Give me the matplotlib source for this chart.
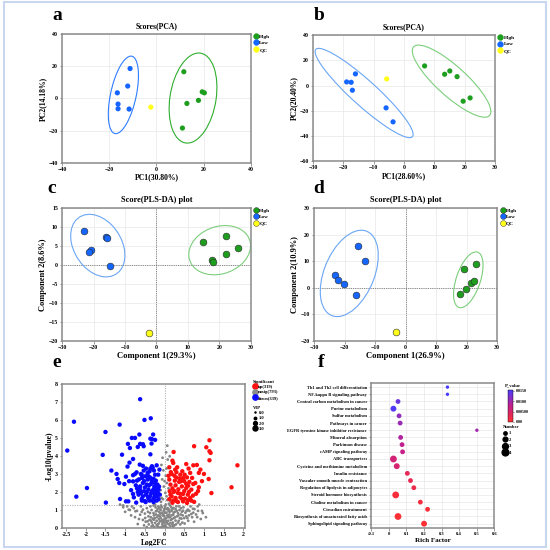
import numpy as np
import matplotlib
matplotlib.use("Agg")
import matplotlib.pyplot as plt
from matplotlib.patches import Ellipse, Rectangle
from matplotlib.colors import LinearSegmentedColormap
from matplotlib.lines import Line2D

plt.rcParams['font.family'] = ['Liberation Serif', 'DejaVu Serif']
plt.rcParams['font.weight'] = 'bold'
plt.rcParams['axes.labelweight'] = 'bold'
plt.rcParams['axes.titleweight'] = 'bold'

# ---------------- data ----------------
groups = ['High', 'Low', 'QC']

# a: PCA scores
a_high_x = [11.6, 19.4, 20.3, 17.8, 12.9, 11.0]
a_high_y = [16.6, 4.1, 3.5, -1.2, -3.1, -18.4]
a_low_x = [-11.2, -12.2, -16.6, -16.3, -16.3, -11.6]
a_low_y = [18.6, 7.7, 3.5, -3.5, -6.4, -6.6]
a_qc_x, a_qc_y = [-2.4], [-5.4]

# b: PCA scores
b_high_x = [6.8, 13.4, 15.1, 17.5, 19.5, 21.8]
b_high_y = [15.6, 9.0, 11.6, 7.1, -12.4, -9.8]
b_low_x = [-16.0, -18.9, -17.4, -17.0, -5.9, -3.6]
b_low_y = [9.3, 2.9, 2.6, -3.7, -17.7, -28.8]
b_qc_x, b_qc_y = [-5.7], [5.3]

# c: PLS-DA scores
c_high_x = [14.7, 22.0, 25.9, 22.2, 17.7, 18.1]
c_high_y = [6.0, 7.6, 4.5, 3.0, 1.3, 0.9]
c_low_x = [-23.0, -16.0, -15.8, -20.9, -21.5, -14.8]
c_low_y = [9.0, 7.3, 7.1, 3.9, 3.4, -0.2]
c_qc_x, c_qc_y = [-2.3], [-17.8]

# d: PLS-DA scores
d_high_x = [19.0, 22.9, 21.4, 22.3, 19.7, 17.9]
d_high_y = [7.2, 8.9, 1.9, 2.4, -0.3, -2.2]
d_low_x = [-15.7, -13.4, -23.1, -22.0, -20.3, -16.3]
d_low_y = [15.8, 10.1, 4.8, 3.0, 1.4, -2.8]
d_qc_x, d_qc_y = [-3.1], [-16.7]

# e: volcano (log2FC, -log10 p)
down_pts = [(-0.62, 7.15), (-2.3, 5.9), (-1.14, 5.74), (-0.51, 6.0), (-0.35, 6.09), (-1.5, 5.33),
            (-0.64, 5.19), (-0.29, 5.19), (-0.83, 5.0), (-0.75, 5.0), (-0.36, 4.96), (-0.24, 4.89),
            (-0.32, 4.93), (-0.93, 4.67), (-0.62, 4.67), (-0.55, 4.65), (-0.33, 4.69), (-0.88, 4.44),
            (-0.68, 4.5), (-0.53, 4.54), (-2.47, 4.3), (-1.57, 4.06), (-1.08, 4.07), (-0.36, 4.09),
            (-0.8, 3.83), (-0.89, 3.63), (-0.94, 3.41), (-0.63, 3.52), (-1.35, 3.19), (-1.22, 3.0),
            (-0.32, 3.43), (-0.2, 3.48), (-0.36, 3.3), (-0.27, 3.19), (-0.71, 3.09), (-0.6, 3.0),
            (-0.8, 2.93), (-0.98, 2.85), (-1.19, 2.72), (-1.15, 2.5), (-1.02, 2.44), (-0.8, 2.59),
            (-0.73, 2.37), (-1.97, 2.22), (-2.24, 1.74), (-1.49, 1.41), (-1.13, 1.61), (-0.98, 1.48),
            (-0.92, 1.48), (-0.8, 1.89), (-0.72, 1.41), (-0.575, 2.78), (-0.49, 2.87), (-0.43, 2.69),
            (-0.37, 2.81), (-0.28, 2.74), (-0.22, 2.63), (-0.16, 2.96), (-0.55, 2.5), (-0.45, 2.41),
            (-0.35, 2.44), (-0.26, 2.31), (-0.18, 2.41), (-0.62, 2.13), (-0.52, 2.04), (-0.41, 2.13),
            (-0.32, 2.04), (-0.22, 2.0), (-0.15, 2.13), (-0.66, 1.85), (-0.55, 1.76), (-0.47, 1.85),
            (-0.37, 1.76), (-0.27, 1.67), (-0.18, 1.76), (-0.575, 1.52), (-0.48, 1.44), (-0.38, 1.52),
            (-0.28, 1.44), (-0.2, 1.52), (-0.43, 3.06), (-0.53, 3.19), (-0.24, 2.96), (-0.13, 3.24),
            (-0.7, 2.63), (-0.62, 2.31), (-0.12, 1.85), (-0.68, 2.0), (-0.42, 2.9), (-0.3, 2.55),
            (-0.5, 2.25), (-0.25, 1.9), (-0.4, 1.6), (-0.15, 1.6), (-0.58, 1.62), (-0.3, 3.35),
            (-0.65, 2.7), (-0.58, 2.95), (-0.47, 3.3), (-0.38, 3.15), (-0.33, 2.65), (-0.24, 2.5),
            (-0.2, 2.2), (-0.45, 2.0), (-0.35, 1.9), (-0.6, 1.95), (-0.5, 1.5), (-0.42, 1.7),
            (-0.3, 1.55), (-0.25, 1.8), (-0.14, 2.3), (-0.52, 2.6), (-0.4, 2.35), (-0.28, 2.15),
            (-0.17, 1.95), (-0.7, 2.2), (-0.78, 1.7), (-0.85, 2.1), (-0.9, 2.6), (-0.75, 3.0),
            (-0.55, 3.45)]
up_pts = [(1.14, 4.87), (0.75, 4.54), (1.06, 4.48), (1.14, 4.26), (1.17, 4.17), (0.23, 4.22),
          (1.14, 3.76), (1.85, 3.48), (0.2, 3.74), (0.22, 3.61), (0.73, 3.48), (0.12, 3.37),
          (0.32, 3.37), (0.27, 3.24), (0.61, 3.3), (0.91, 3.24), (0.87, 3.06), (0.65, 3.06),
          (0.51, 2.96), (0.18, 3.0), (0.4, 2.96), (0.47, 2.78), (0.57, 2.81), (0.7, 2.78),
          (1.12, 2.72), (0.12, 2.69), (0.26, 2.63), (0.37, 2.56), (0.63, 2.56), (0.73, 2.44),
          (0.87, 2.26), (1.7, 2.26), (0.15, 2.41), (0.28, 2.37), (0.44, 2.31), (0.55, 2.22),
          (0.68, 2.13), (1.19, 1.94), (0.13, 2.04), (0.23, 2.0), (0.34, 1.94), (0.47, 1.89),
          (0.59, 1.85), (0.72, 1.8), (0.18, 1.76), (0.28, 1.67), (0.4, 1.7), (0.52, 1.63),
          (0.65, 1.67), (0.22, 1.52), (0.34, 1.44), (0.47, 1.48), (0.57, 1.39), (0.68, 1.52),
          (0.3, 2.8), (0.42, 2.6), (0.2, 2.2), (0.35, 2.15), (0.5, 2.05), (0.15, 1.85),
          (0.62, 2.0), (0.8, 1.9), (0.45, 3.15), (0.55, 2.45), (0.25, 2.9), (0.1, 2.9),
          (0.16, 3.1), (0.3, 3.1), (0.38, 2.75), (0.5, 2.6), (0.6, 2.35), (0.78, 2.5),
          (0.85, 2.05), (0.25, 2.05), (0.4, 1.9), (0.3, 1.5), (0.45, 1.6), (0.6, 1.55),
          (0.75, 1.45), (0.12, 1.6), (0.2, 1.4), (0.95, 2.6), (1.0, 3.0), (0.82, 3.5),
          (0.55, 3.55)]
nosig_pts = [(-1.13, 1.3), (-1.05, 1.15), (-0.91, 1.02), (-0.83, 1.2), (-0.74, 0.93), (-0.68, 0.22),
             (-0.62, 0.74), (-0.55, 1.02), (-0.49, 0.56), (-0.43, 0.37), (-0.37, 0.83), (-0.3, 0.52),
             (-0.24, 0.28), (-0.18, 0.09), (-0.12, 0.65), (-0.08, 0.37), (-0.13, 1.11), (0.07, 4.57),
             (-0.16, 1.2), (-0.22, 0.93), (-0.41, 0.65), (-0.52, 0.15), (-0.2, 1.85), (-0.075, 1.67),
             (0.05, 1.76), (0.15, 1.48), (-0.24, 1.3), (-0.13, 1.11), (0.01, 1.2), (0.12, 1.02),
             (0.23, 1.11), (0.37, 1.2), (-0.28, 0.83), (-0.16, 0.7), (-0.03, 0.78), (0.09, 0.65),
             (0.22, 0.74), (0.34, 0.83), (0.47, 0.96), (0.59, 1.02), (0.72, 1.07), (0.84, 1.2),
             (0.97, 0.83), (0.68, 0.78), (-0.27, 0.46), (-0.12, 0.37), (0.03, 0.41), (0.15, 0.28),
             (0.28, 0.41), (0.43, 0.52), (-0.03, 0.09), (0.09, 0.0), (-0.2, 0.15), (-0.33, 0.09),
             (0.22, 0.09), (0.55, 0.65), (-0.05, 3.9), (-0.08, 3.5), (-0.03, 3.2), (0.05, 3.3),
             (0.08, 3.8), (0.03, 2.9), (-0.06, 2.7), (0.06, 2.5), (-0.02, 2.3), (0.1, 2.2),
             (-0.1, 2.1), (0.02, 1.95), (-0.04, 1.6), (0.07, 1.55), (0.11, 1.35), (-0.09, 1.45),
             (0.04, 4.2), (0.13, 3.98), (0.0, 2.6), (-0.55, 0.45), (-0.5, 0.8), (-0.45, 1.1),
             (-0.4, 0.2), (-0.35, 0.6), (-0.33, 1.0), (-0.3, 0.15), (-0.28, 1.25), (-0.25, 0.55),
             (-0.22, 0.75), (-0.2, 0.4), (-0.18, 1.05), (-0.15, 0.25), (-0.14, 0.9), (-0.1, 0.55),
             (-0.08, 0.05), (-0.07, 1.15), (-0.05, 0.7), (-0.04, 0.3), (-0.02, 0.95), (0.0, 0.5),
             (0.02, 0.15), (0.03, 1.3), (0.05, 0.85), (0.06, 0.35), (0.08, 1.1), (0.1, 0.6),
             (0.11, 0.2), (0.13, 0.9), (0.14, 1.25), (0.16, 0.45), (0.18, 0.7), (0.2, 1.05),
             (0.21, 0.3), (0.24, 0.55), (0.26, 0.9), (0.29, 0.2), (0.3, 1.2), (0.32, 0.65),
             (0.36, 0.4), (0.38, 1.0), (0.41, 0.75), (0.45, 0.3), (0.48, 1.15), (0.5, 0.55),
             (0.53, 0.85), (0.6, 0.4), (0.63, 0.95), (0.7, 0.6), (0.76, 1.05), (0.8, 0.75),
             (0.88, 1.3), (0.92, 0.5), (-0.6, 1.2), (-0.65, 0.5), (-0.7, 0.95), (-0.78, 1.1),
             (-0.85, 0.7), (-0.95, 1.2), (-1.05, 1.25), (-0.12, 0.02), (0.0, 0.0), (0.04, 0.05),
             (-0.02, 0.12), (0.07, 0.25), (-0.06, 0.2), (-0.45, 0.05), (-0.38, 0.45), (-0.32, 0.3),
             (-0.27, 0.7), (-0.23, 1.15), (-0.19, 0.6), (-0.17, 0.2), (-0.11, 0.8), (-0.09, 1.25),
             (-0.06, 0.45), (-0.01, 0.65), (0.01, 0.85), (0.04, 0.55), (0.06, 1.05), (0.09, 0.4),
             (0.12, 0.75), (0.15, 0.1), (0.17, 1.15), (0.19, 0.5), (0.23, 0.85), (0.25, 0.15),
             (0.27, 0.6), (0.31, 0.95), (0.34, 0.3), (0.39, 0.55), (0.42, 1.1), (0.46, 0.7),
             (0.51, 0.25), (0.56, 0.95), (0.58, 0.55), (0.66, 1.2), (0.73, 0.85), (0.83, 0.6),
             (-0.58, 0.9), (-0.48, 0.35), (-0.42, 0.9), (-0.36, 1.2), (-0.26, 0.05), (-0.14, 0.5),
             (-0.1, 1.0), (-0.03, 0.4), (0.02, 1.1), (0.07, 0.7), (0.1, 0.95), (0.14, 0.6),
             (0.2, 0.2), (0.28, 1.05), (0.35, 0.7), (0.44, 0.9), (-0.07, 0.85), (-0.16, 0.05),
             (0.0, 0.3), (-0.01, 1.05), (0.18, 0.95), (-0.2, 0.95), (-0.34, 0.4), (0.4, 0.2),
             (0.62, 0.7), (0.75, 0.35), (0.95, 0.95), (-0.75, 0.6), (-0.88, 1.0), (-1.0, 0.9),
             (1.05, 0.6), (0.85, 0.95)]
sig_labels = ['up(319)', 'nosig(793)', 'down(339)']
vip_labels = ['0.0', '1.0', '2.0', '3.0']

# f: KEGG enrichment
pathways = ['Th1 and Th2 cell differentiation', 'NF-kappa B signaling pathway',
            'Central carbon metabolism in cancer', 'Purine metabolism', 'Sulfur metabolism',
            'Pathways in cancer', 'EGFR tyrosine kinase inhibitor resistance', 'Mineral absorption',
            'Parkinson disease', 'cAMP signaling pathway', 'ABC transporters',
            'Cysteine and methionine metabolism', 'Insulin resistance',
            'Vascular smooth muscle contraction', 'Regulation of lipolysis in adipocytes',
            'Steroid hormone biosynthesis', 'Choline metabolism in cancer', 'Circadian entrainment',
            'Biosynthesis of unsaturated fatty acids', 'Sphingolipid signaling pathway']
rich_factor = [0.333, 0.333, 0.052, 0.026, 0.058, 0.064, 0.5, 0.067, 0.075, 0.078,
               0.026, 0.045, 0.105, 0.123, 0.142, 0.039, 0.179, 0.22, 0.052, 0.2]
hit_number = [1, 1, 2, 3, 2, 2, 1, 2, 2, 2, 4, 3, 2, 2, 2, 4, 2, 2, 4, 3]
p_value = [0.0155, 0.0155, 0.0135, 0.0150, 0.0110, 0.0105, 0.0100, 0.0090, 0.0080, 0.0075,
           0.0060, 0.0055, 0.0035, 0.0030, 0.0025, 0.0010, 0.0015, 0.0008, 0.0005, 0.0004]

# ---------------- helpers ----------------
GREEN, BLUE, YELLOW = '#1e9e1e', '#1565ff', '#ffff1a'
SPINE = '#8a8a8a'


def conf_ellipse(ax, x, y, color, lw=0.8, scale=2.4477):
    # 95% confidence ellipse from the group covariance
    cov = np.cov(x, y)
    vals, vecs = np.linalg.eigh(cov)
    order = vals.argsort()[::-1]
    vals, vecs = vals[order], vecs[:, order]
    angle = np.degrees(np.arctan2(vecs[1, 0], vecs[0, 0]))
    w, h = 2 * scale * np.sqrt(vals)
    ax.add_patch(Ellipse((np.mean(x), np.mean(y)), w, h, angle=angle,
                         fill=False, edgecolor=color, lw=lw, zorder=2))


def style_axes(ax, tick_size=4.2):
    for s in ax.spines.values():
        s.set_color(SPINE)
        s.set_linewidth(1.1)
    ax.tick_params(labelsize=tick_size, length=1.8, width=0.6, color=SPINE, pad=1.2)
    ax.grid(True, color='#e8e8e8', lw=0.5)
    ax.set_axisbelow(True)


def score_panel(ax, hx, hy, lx, ly, qx, qy, pls, ell_h, ell_l):
    style_axes(ax)
    if pls:
        ax.axhline(0, color='#666666', ls=(0, (1, 1.2)), lw=0.6, zorder=1)
        ax.axvline(0, color='#666666', ls=(0, (1, 1.2)), lw=0.6, zorder=1)
        kw = dict(s=24, edgecolors='#2a2a2a', linewidths=0.4, zorder=3)
    else:
        kw = dict(s=14, edgecolors='none', zorder=3)
    conf_ellipse(ax, hx, hy, ell_h)
    conf_ellipse(ax, lx, ly, ell_l)
    ax.scatter(hx, hy, color=GREEN, **kw)
    ax.scatter(lx, ly, color=BLUE, **kw)
    ax.scatter(qx, qy, color=YELLOW, **kw)
    handles = [Line2D([], [], marker='o', ls='', color=c, markersize=4.2,
                      mec='#2a2a2a' if pls else c, mew=0.3)
               for c in (GREEN, BLUE, YELLOW)]
    ax.legend(handles, groups, loc='upper left', bbox_to_anchor=(1.015, 1.0), frameon=False,
              fontsize=3.8, handletextpad=0.1, labelspacing=0.35, borderaxespad=0,
              handlelength=1.0, borderpad=0)


fig = plt.figure(figsize=(5.5, 5.5), dpi=100)

# ---- a ----
ax = fig.add_axes([0.113, 0.704, 0.343, 0.234])
score_panel(ax, a_high_x, a_high_y, a_low_x, a_low_y, a_qc_x, a_qc_y, False, '#2fae2f', '#2f7dff')
ax.set_xlim(-40, 40)
ax.set_ylim(-40, 40)
ax.set_xticks(range(-40, 41, 20))
ax.set_yticks(range(-40, 41, 20))
ax.set_title('Scores(PCA)', fontsize=5.5, pad=4)
ax.set_xlabel('PC1(30.80%)', fontsize=5.5, labelpad=1)
ax.set_ylabel('PC2(14.18%)', fontsize=5.5, labelpad=1)

# ---- b ----
ax = fig.add_axes([0.569, 0.707, 0.331, 0.229])
score_panel(ax, b_high_x, b_high_y, b_low_x, b_low_y, b_qc_x, b_qc_y, False, '#7cce7c', '#6aa6f5')
ax.set_xlim(-30, 30)
ax.set_ylim(-60, 40)
ax.set_xticks(range(-30, 31, 10))
ax.set_yticks(range(-60, 41, 20))
ax.set_title('Scores(PCA)', fontsize=5.5, pad=4)
ax.set_xlabel('PC1(28.60%)', fontsize=5.5, labelpad=1)
ax.set_ylabel('PC2(20.40%)', fontsize=5.5, labelpad=1)

# ---- c ----
ax = fig.add_axes([0.113, 0.38, 0.343, 0.242])
score_panel(ax, c_high_x, c_high_y, c_low_x, c_low_y, c_qc_x, c_qc_y, True, '#7cce7c', '#6aa6f5')
ax.set_xlim(-30, 30)
ax.set_ylim(-20, 15)
ax.set_xticks(range(-30, 31, 10))
ax.set_yticks(range(-20, 16, 5))
ax.set_title('Score(PLS-DA) plot', fontsize=6, pad=4)
ax.set_xlabel('Component 1(29.3%)', fontsize=6.2, labelpad=1)
ax.set_ylabel('Component 2(8.6%)', fontsize=6, labelpad=1)

# ---- d ----
ax = fig.add_axes([0.571, 0.38, 0.333, 0.242])
score_panel(ax, d_high_x, d_high_y, d_low_x, d_low_y, d_qc_x, d_qc_y, True, '#7cce7c', '#6aa6f5')
ax.set_xlim(-30, 30)
ax.set_ylim(-20, 30)
ax.set_xticks(range(-30, 31, 10))
ax.set_yticks(range(-20, 31, 10))
ax.set_title('Score(PLS-DA) plot', fontsize=6, pad=4)
ax.set_xlabel('Component 1(26.9%)', fontsize=6.2, labelpad=1)
ax.set_ylabel('Component 2(10.9%)', fontsize=6, labelpad=1)

# ---- e ----
ax = fig.add_axes([0.113, 0.04, 0.333, 0.262])
style_axes(ax)
ax.grid(False)
ax.axhline(1.3, color='#b0b0b0', ls=(0, (1, 1.2)), lw=0.8, zorder=1)
ax.axvline(0, color='#b0b0b0', ls=(0, (1, 1.2)), lw=0.8, zorder=1)
ns = np.array(nosig_pts)
dn = np.array(down_pts)
up = np.array(up_pts)
ax.scatter(ns[:, 0], ns[:, 1], s=4, color='#858585', edgecolors='none', zorder=2)
ax.scatter(dn[:, 0], dn[:, 1], s=10, color='#0a0aff', edgecolors='none', zorder=3)
ax.scatter(up[:, 0], up[:, 1], s=10, color='#ff1010', edgecolors='none', zorder=3)
ax.set_xlim(-2.6, 2.05)
ax.set_ylim(0, 8)
ax.set_xticks(np.arange(-2.5, 2.01, 0.5))
ax.set_xticklabels(['-2.5', '-2', '-1.5', '-1', '-0.5', '0', '0.5', '1', '1.5', '2'])
ax.set_yticks(range(0, 9))
ax.set_xlabel('Log2FC', fontsize=5.5, labelpad=1)
ax.set_ylabel('-Log10(pvalue)', fontsize=5.5, labelpad=1)
h_sig = [Line2D([], [], marker='o', ls='', color=c, markersize=3.8)
         for c in ('#ff1010', '#8c8c8c', '#0a0aff')]
leg1 = ax.legend(h_sig, sig_labels, title='Significant', loc='upper left',
                 bbox_to_anchor=(1.04, 1.03), frameon=False, fontsize=3.3, title_fontsize=3.3,
                 handletextpad=0.1, labelspacing=0.25, borderaxespad=0, handlelength=1.0,
                 borderpad=0)
leg1._legend_box.align = 'left'
ax.add_artist(leg1)
h_vip = [Line2D([], [], marker='o', ls='', color='black', markersize=m)
         for m in (0.8, 1.8, 2.8, 3.6)]
leg2 = ax.legend(h_vip, vip_labels, title='VIP', loc='upper left',
                 bbox_to_anchor=(1.04, 0.85), frameon=False, fontsize=3.3, title_fontsize=3.3,
                 handletextpad=0.3, labelspacing=0.25, borderaxespad=0, handlelength=1.0,
                 borderpad=0)
leg2._legend_box.align = 'left'

# ---- f ----
ax = fig.add_axes([0.675, 0.04, 0.224, 0.264])
style_axes(ax, tick_size=3.3)
cmap = LinearSegmentedColormap.from_list('pv', ['#ff3030', '#c4208a', '#4a3cff'])
ypos = np.arange(len(pathways))[::-1]
sizes = [6 * n for n in hit_number]
sc = ax.scatter(rich_factor, ypos, s=sizes, c=p_value, cmap=cmap, vmin=0, vmax=0.0155,
                edgecolors='none', zorder=3)
ax.set_yticks(ypos)
ax.set_yticklabels(pathways, fontsize=3.2)
ax.set_ylim(-0.6, len(pathways) - 0.4)
ax.set_xlim(-0.1, 0.6)
ax.set_xticks(np.arange(-0.1, 0.61, 0.1))
ax.set_xticklabels(['-0.1', '0', '0.1', '0.2', '0.3', '0.4', '0.5', '0.6'])
ax.set_xlabel('Rich Factor', fontsize=5, labelpad=1)
cax = fig.add_axes([0.924, 0.233, 0.009, 0.058])
cb = fig.colorbar(sc, cax=cax, ticks=[0, 0.005, 0.01, 0.015])
cb.ax.set_yticklabels(['0.00', '0.00500', '0.0100', '0.0150'])
cb.ax.tick_params(labelsize=3, length=1, width=0.4, pad=1)
cb.outline.set_linewidth(0.3)
fig.text(0.918, 0.297, 'P_value', fontsize=3.3)
h_num = [Line2D([], [], marker='o', ls='', color='black', markersize=np.sqrt(6 * n))
         for n in (1, 2, 3, 4)]
leg3 = ax.legend(h_num, ['1', '2', '3', '4'], title='Number', loc='upper left',
                 bbox_to_anchor=(1.07, 0.71), frameon=False, fontsize=3.3, title_fontsize=3.3,
                 handletextpad=0.3, labelspacing=0.5, borderaxespad=0, handlelength=1.0,
                 borderpad=0)
leg3._legend_box.align = 'left'

# panel letters
for lbl, x, y in [('a', 0.096, 0.964), ('b', 0.571, 0.964), ('c', 0.087, 0.649),
                  ('d', 0.569, 0.649), ('e', 0.096, 0.333), ('f', 0.578, 0.333)]:
    fig.text(x, y, lbl, fontsize=14, fontweight='bold', va='baseline')

# outer frame
fig.add_artist(Rectangle((0.008, 0.006), 0.985, 0.99, transform=fig.transFigure,
                         fill=False, edgecolor='#c8d6ef', lw=1.5))

fig.savefig('out.png', dpi=100)
